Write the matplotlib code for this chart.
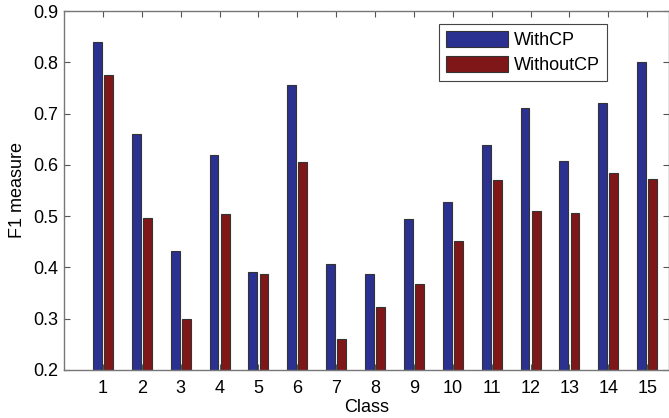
import numpy as np
import matplotlib
matplotlib.use('Agg')
import matplotlib.pyplot as plt

plt.rcParams['font.family'] = ['Liberation Sans', 'DejaVu Sans']

# data
classes = np.arange(1, 16)
with_cp = [0.840, 0.661, 0.432, 0.620, 0.392, 0.755, 0.406, 0.387, 0.494,
           0.528, 0.639, 0.710, 0.608, 0.720, 0.801]
without_cp = [0.775, 0.497, 0.300, 0.505, 0.387, 0.605, 0.261, 0.322, 0.368,
              0.452, 0.570, 0.510, 0.507, 0.584, 0.572]
series_names = ['WithCP', 'WithoutCP']

fig = plt.figure(figsize=(6.69, 4.18), dpi=100)
ax = fig.add_axes([64 / 669, 1 - 370 / 418, 1 - 64 / 669, (370 - 11) / 418])

# MATLAB-style grouped bars
w = 0.229
off = 0.143
ax.bar(classes - off, with_cp, w, bottom=0, color='#2b3190', edgecolor='#333333',
       linewidth=0.8, label=series_names[0])
ax.bar(classes + off, without_cp, w, bottom=0, color='#7f1719', edgecolor='#333333',
       linewidth=0.8, label=series_names[1])

ax.set_xlim(0, 15.56)
ax.set_ylim(0.2, 0.9)
ax.set_xticks(classes)
ax.set_yticks(np.arange(0.2, 0.91, 0.1))
ax.set_yticklabels(['%.1f' % v for v in np.arange(0.2, 0.91, 0.1)])
ax.tick_params(direction='in', length=4, width=0.8, top=True, right=True,
               labelsize=13, colors='#555555', labelcolor='black')
ax.tick_params(axis='x', pad=7.5)
ax.tick_params(axis='y', pad=4)
for s in ax.spines.values():
    s.set_color('#777777')
    s.set_linewidth(1.0)

ax.set_xlabel('Class', fontsize=13, labelpad=1.5)
ax.set_ylabel('F1 measure', fontsize=13, labelpad=5)

leg = ax.legend(loc='upper left', bbox_to_anchor=(0.62, 0.964), fontsize=13,
                fancybox=False, framealpha=1, edgecolor='#444444',
                handlelength=3.4, handleheight=1.0, labelspacing=0.35,
                handletextpad=0.35, borderpad=0.4, borderaxespad=0)
leg.get_frame().set_linewidth(0.8)

fig.savefig('out.png', dpi=100)
